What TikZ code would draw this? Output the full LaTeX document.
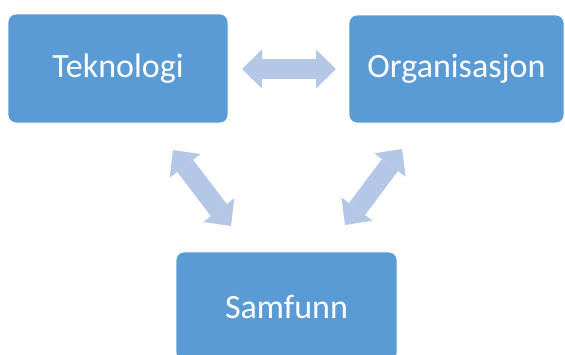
\documentclass[tikz,border=0pt]{standalone}
\usepackage{fontspec}
\setmainfont{Carlito}
\usetikzlibrary{arrows.meta}
\definecolor{boxblue}{HTML}{5B9BD5}
\definecolor{arrowblue}{HTML}{B4C7E7}
\begin{document}
\begin{tikzpicture}[x=1pt,y=-1pt,
  box/.style={fill=boxblue, draw=white, line width=0.8pt, rounded corners=8pt,
    text=white, font=\fontsize{34}{40}\selectfont, inner sep=0pt},
  link/.style={draw=arrowblue, line width=20pt, {Triangle[length=20pt,width=39pt,line width=0pt]}-{Triangle[length=20pt,width=39pt,line width=0pt]}}]
\clip (0,0) rectangle (565,354);
\node[box, minimum width=220pt, minimum height=109pt] (tek) at (118,68.5) {Teknologi};
\node[box, minimum width=215pt, minimum height=108pt] (org) at (456.5,69) {Organisasjon};
\node[box, minimum width=221pt, minimum height=109pt] (sam) at (286.5,306.5) {Samfunn};
\coordinate (h1) at (242,69);
\coordinate (h2) at (336,69);
\coordinate (l1) at (173,150);
\coordinate (l2) at (231,226);
\coordinate (r1) at (402,149);
\coordinate (r2) at (345,225);
\draw[link] (h1) -- (h2);
\draw[link] (l1) -- (l2);
\draw[link] (r1) -- (r2);
\end{tikzpicture}
\end{document}
